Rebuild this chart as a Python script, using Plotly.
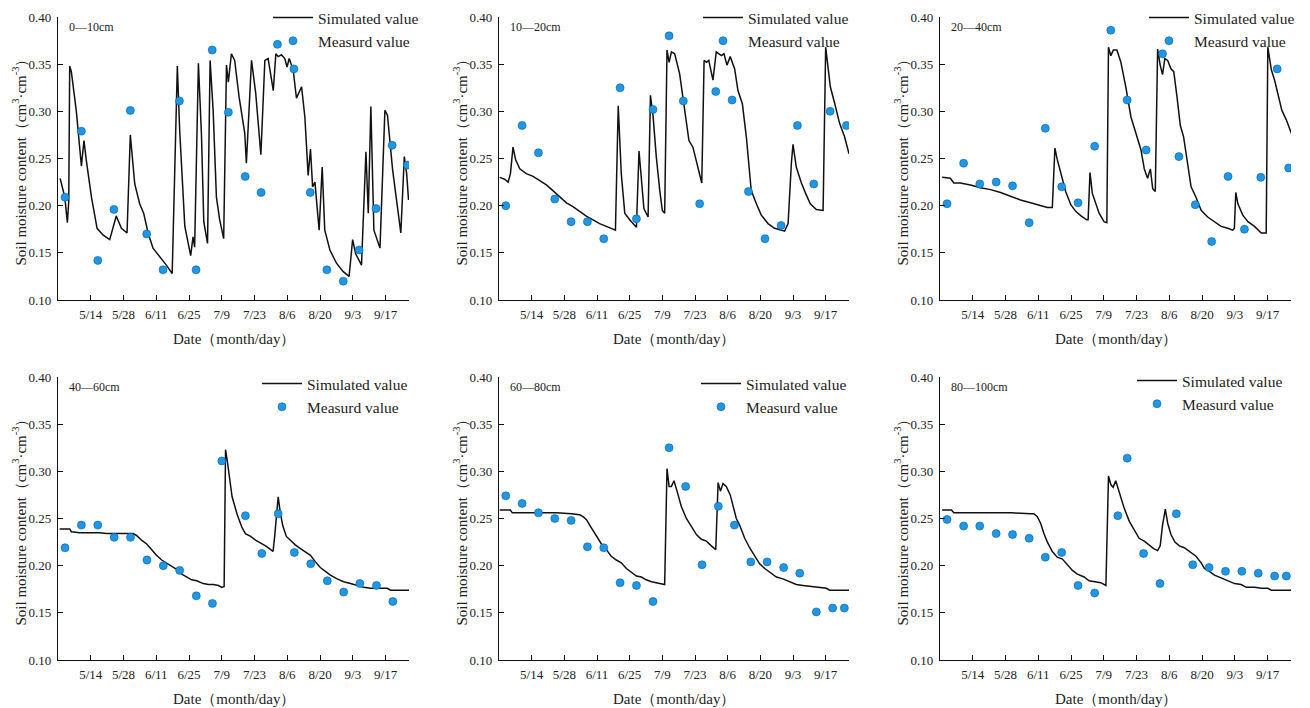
import plotly.graph_objects as go

# ---- Simulated soil moisture (day of year, cm3/cm3) ----
SIM_0_10_DAY = [120.9, 122.9, 124.0, 124.6, 125.0, 125.7, 127.8, 130.0, 131.1, 132.1, 134.3, 136.7, 139.2, 142.1, 144.9,
                147.1, 149.5, 150.9, 152.8, 154.9, 156.6, 158.5, 160.6, 163.5, 166.3, 168.8, 171.0, 172.0, 174.2, 176.7,
                177.7, 178.4, 180.0, 181.3, 182.3, 183.9, 185.0, 186.3, 187.7, 189.1, 190.8, 192.0, 192.8, 194.1, 195.5,
                197.4, 199.1, 199.8, 200.5, 202.7, 204.5, 206.7, 208.4, 209.8, 212.0, 213.1, 214.1, 215.5, 216.9, 217.9,
                218.8, 220.5, 221.9, 224.1, 225.5, 226.9, 227.9, 228.8, 229.8, 231.6, 232.9, 234.0, 236.2, 239.0, 241.9,
                244.4, 245.9, 247.2, 249.7, 251.6, 252.6, 253.7, 255.0, 257.6, 259.7, 260.8, 263.0, 265.0, 266.5, 268.0,
                269.0, 269.8]
SIM_0_10_VAL = [0.229, 0.209, 0.182, 0.205, 0.348, 0.342, 0.301, 0.242, 0.269, 0.248, 0.209, 0.176, 0.169, 0.164, 0.189,
                0.176, 0.171, 0.275, 0.223, 0.202, 0.192, 0.171, 0.155, 0.146, 0.137, 0.128, 0.348, 0.280, 0.178, 0.147,
                0.167, 0.156, 0.351, 0.276, 0.183, 0.160, 0.354, 0.301, 0.209, 0.185, 0.165, 0.349, 0.331, 0.361, 0.354,
                0.315, 0.284, 0.277, 0.245, 0.354, 0.319, 0.254, 0.354, 0.356, 0.322, 0.361, 0.358, 0.360, 0.356, 0.347,
                0.356, 0.344, 0.314, 0.326, 0.294, 0.232, 0.260, 0.220, 0.225, 0.174, 0.241, 0.174, 0.153, 0.139, 0.130,
                0.125, 0.164, 0.149, 0.137, 0.257, 0.192, 0.305, 0.174, 0.155, 0.301, 0.296, 0.238, 0.199, 0.171, 0.252,
                0.234, 0.206]

SIM_10_20_DAY = [120.3, 122.4, 123.9, 124.9, 126.0, 127.1, 128.9, 131.7, 134.6, 137.4, 140.3, 143.1, 146.0, 148.9, 151.7,
                 154.6, 157.4, 160.3, 163.1, 166.0, 169.9, 171.1, 172.4, 173.9, 176.0, 178.9, 180.0, 181.0, 182.1, 183.9,
                 184.9, 186.0, 187.4, 188.9, 190.0, 191.0, 192.0, 192.9, 193.9, 195.3, 197.4, 199.6, 201.4, 203.1, 205.3,
                 206.9, 207.9, 208.9, 209.9, 211.7, 213.1, 215.3, 216.4, 217.7, 219.1, 221.0, 222.4, 224.3, 226.0, 228.1,
                 230.3, 232.4, 235.3, 238.1, 242.4, 243.9, 245.3, 246.0, 247.4, 249.6, 251.4, 253.4, 256.0, 258.9, 260.0,
                 261.0, 262.0, 263.9, 266.0, 268.1, 270.0]
SIM_10_20_VAL = [0.230, 0.228, 0.225, 0.234, 0.262, 0.249, 0.239, 0.234, 0.231, 0.227, 0.222, 0.216, 0.209, 0.203, 0.199,
                 0.194, 0.189, 0.185, 0.181, 0.178, 0.174, 0.306, 0.234, 0.192, 0.185, 0.177, 0.258, 0.229, 0.197, 0.188,
                 0.317, 0.296, 0.252, 0.216, 0.195, 0.192, 0.365, 0.352, 0.363, 0.361, 0.340, 0.301, 0.269, 0.262, 0.241,
                 0.224, 0.354, 0.352, 0.354, 0.333, 0.363, 0.359, 0.361, 0.349, 0.358, 0.345, 0.322, 0.308, 0.273, 0.216,
                 0.202, 0.190, 0.181, 0.176, 0.173, 0.181, 0.245, 0.265, 0.241, 0.224, 0.213, 0.202, 0.196, 0.195, 0.368,
                 0.347, 0.326, 0.308, 0.287, 0.273, 0.255]

SIM_20_40_DAY = [120.9, 124.4, 125.9, 128.7, 133.0, 137.3, 141.6, 145.9, 150.1, 154.4, 158.7, 163.0, 165.9, 168.0, 169.1,
                 170.1, 171.6, 173.7, 175.9, 178.0, 180.4, 182.7, 183.3, 184.1, 185.1, 186.1, 188.0, 190.1, 191.3, 192.0,
                 193.0, 194.1, 195.6, 197.3, 199.4, 201.6, 203.7, 205.9, 207.3, 208.7, 209.9, 210.9, 212.0, 213.0, 214.1,
                 215.1, 216.1, 217.3, 218.7, 219.9, 221.3, 222.7, 224.1, 225.9, 227.3, 229.4, 231.6, 234.4, 237.3, 240.1,
                 243.0, 245.1, 245.8, 246.4, 247.3, 249.4, 251.6, 254.4, 257.3, 259.4, 260.1, 261.6, 263.0, 264.4, 266.1,
                 268.0, 269.4, 270.4]
SIM_20_40_VAL = [0.230, 0.229, 0.224, 0.224, 0.222, 0.219, 0.217, 0.214, 0.210, 0.206, 0.203, 0.200, 0.198, 0.198, 0.261,
                 0.249, 0.234, 0.215, 0.201, 0.194, 0.189, 0.185, 0.185, 0.235, 0.213, 0.206, 0.192, 0.183, 0.182, 0.368,
                 0.359, 0.365, 0.365, 0.352, 0.326, 0.294, 0.276, 0.259, 0.239, 0.229, 0.239, 0.218, 0.215, 0.366, 0.349,
                 0.339, 0.356, 0.354, 0.345, 0.342, 0.315, 0.285, 0.273, 0.245, 0.220, 0.209, 0.195, 0.188, 0.183, 0.178,
                 0.176, 0.174, 0.176, 0.214, 0.202, 0.190, 0.183, 0.178, 0.171, 0.171, 0.368, 0.344, 0.333, 0.319, 0.301,
                 0.291, 0.282, 0.275]

SIM_40_60_DAY = [120.7, 125.0, 125.7, 129.3, 133.6, 137.9, 140.7, 143.6, 146.4, 149.3, 152.1, 153.6, 155.7, 157.9, 160.0,
                 162.1, 164.3, 166.4, 168.6, 170.7, 172.9, 175.0, 177.1, 179.3, 182.1, 184.3, 186.4, 188.6, 190.0, 191.0,
                 191.6, 192.3, 193.4, 194.4, 196.6, 198.7, 200.1, 202.3, 204.4, 206.6, 208.7, 210.9, 211.9, 212.6, 214.1,
                 215.0, 216.1, 217.6, 219.3, 221.4, 223.6, 225.7, 227.9, 230.0, 232.1, 234.3, 236.4, 239.3, 242.1, 245.0,
                 247.9, 250.7, 253.6, 256.4, 260.7, 262.1, 266.4, 270.1]
SIM_40_60_VAL = [0.239, 0.239, 0.236, 0.235, 0.235, 0.235, 0.234, 0.234, 0.234, 0.234, 0.234, 0.232, 0.227, 0.223, 0.217,
                 0.211, 0.206, 0.203, 0.199, 0.196, 0.191, 0.188, 0.185, 0.184, 0.181, 0.180, 0.180, 0.179, 0.177, 0.178,
                 0.323, 0.312, 0.291, 0.273, 0.254, 0.240, 0.234, 0.231, 0.227, 0.224, 0.221, 0.217, 0.215, 0.231, 0.273,
                 0.256, 0.242, 0.231, 0.227, 0.222, 0.218, 0.215, 0.211, 0.204, 0.198, 0.194, 0.190, 0.186, 0.183, 0.181,
                 0.179, 0.177, 0.176, 0.176, 0.176, 0.174, 0.174, 0.174]

SIM_60_80_DAY = [120.3, 124.9, 125.7, 130.3, 137.4, 144.6, 151.0, 154.6, 156.0, 157.4, 159.6, 161.7, 163.9, 166.0, 168.1,
                 170.3, 172.4, 174.6, 176.7, 178.9, 181.0, 183.1, 185.3, 187.4, 189.6, 191.0, 192.0, 192.9, 193.9, 195.0,
                 196.3, 198.1, 200.3, 202.4, 204.6, 206.7, 208.9, 211.0, 212.9, 213.9, 214.9, 216.0, 217.4, 219.1, 220.3,
                 221.7, 223.1, 225.3, 227.4, 229.6, 231.7, 233.9, 236.0, 238.9, 241.7, 244.6, 247.4, 250.3, 253.1, 257.4,
                 260.3, 261.7, 270.0]
SIM_60_80_VAL = [0.259, 0.259, 0.256, 0.256, 0.256, 0.256, 0.255, 0.254, 0.252, 0.249, 0.240, 0.232, 0.223, 0.217, 0.210,
                 0.206, 0.203, 0.197, 0.193, 0.189, 0.188, 0.185, 0.183, 0.182, 0.181, 0.180, 0.303, 0.284, 0.284, 0.290,
                 0.279, 0.263, 0.250, 0.242, 0.233, 0.228, 0.226, 0.221, 0.217, 0.288, 0.279, 0.287, 0.284, 0.275, 0.263,
                 0.250, 0.243, 0.229, 0.219, 0.210, 0.202, 0.197, 0.193, 0.188, 0.186, 0.183, 0.180, 0.179, 0.178, 0.177,
                 0.176, 0.174, 0.174]

SIM_80_100_DAY = [120.9, 124.9, 125.9, 133.0, 140.1, 146.6, 150.9, 158.7, 160.1, 161.6, 163.0, 164.4, 165.9, 168.0, 170.1,
                  172.3, 174.4, 176.6, 178.7, 181.6, 183.7, 186.6, 188.7, 190.9, 192.0, 193.0, 194.0, 195.1, 196.6, 198.7,
                  200.9, 203.0, 205.1, 207.3, 209.4, 211.3, 213.0, 214.1, 215.1, 216.3, 217.3, 218.7, 220.4, 222.3, 224.4,
                  227.3, 229.4, 231.6, 233.0, 235.1, 237.3, 240.1, 243.0, 245.9, 248.7, 250.9, 254.4, 257.3, 260.1, 261.6,
                  270.4]
SIM_80_100_VAL = [0.259, 0.259, 0.256, 0.256, 0.256, 0.256, 0.256, 0.255, 0.255, 0.252, 0.245, 0.234, 0.225, 0.215, 0.209,
                  0.207, 0.201, 0.195, 0.191, 0.188, 0.184, 0.183, 0.182, 0.179, 0.295, 0.286, 0.283, 0.290, 0.277, 0.261,
                  0.247, 0.238, 0.229, 0.226, 0.222, 0.218, 0.216, 0.221, 0.243, 0.260, 0.245, 0.233, 0.225, 0.221, 0.219,
                  0.214, 0.210, 0.203, 0.197, 0.194, 0.190, 0.187, 0.184, 0.181, 0.180, 0.177, 0.177, 0.176, 0.176, 0.174,
                  0.174]

# ---- Measured soil moisture ----
OBS_0_10_DAY = [123.0, 130.0, 137.0, 143.9, 150.9, 157.9, 164.9, 171.9, 179.0, 185.9, 192.8, 200.0, 206.8, 213.8,
                220.8, 227.8, 234.9, 241.9, 248.7, 255.9, 262.8, 269.4]
OBS_0_10_VAL = [0.209, 0.279, 0.142, 0.196, 0.301, 0.170, 0.132, 0.311, 0.132, 0.365, 0.299, 0.231, 0.214, 0.371,
                0.345, 0.214, 0.132, 0.120, 0.153, 0.197, 0.264, 0.243]

OBS_10_20_DAY = [122.9, 129.9, 136.9, 143.9, 150.9, 157.9, 164.9, 171.9, 178.9, 186.0, 192.9, 199.0, 206.0, 212.9,
                 219.9, 226.9, 234.0, 240.9, 247.9, 254.9, 261.9, 268.9]
OBS_10_20_VAL = [0.200, 0.285, 0.256, 0.207, 0.183, 0.183, 0.165, 0.325, 0.186, 0.302, 0.380, 0.311, 0.202, 0.321,
                 0.312, 0.215, 0.165, 0.179, 0.285, 0.223, 0.300, 0.285]

OBS_20_40_DAY = [123.0, 130.1, 137.0, 144.0, 151.0, 158.1, 165.0, 172.0, 179.0, 186.1, 193.0, 200.0, 208.1, 215.1,
                 222.1, 229.1, 236.1, 243.1, 250.1, 257.1, 264.1, 269.0]
OBS_20_40_VAL = [0.202, 0.245, 0.223, 0.225, 0.221, 0.182, 0.282, 0.220, 0.203, 0.263, 0.386, 0.312, 0.259, 0.361,
                 0.252, 0.201, 0.162, 0.231, 0.175, 0.230, 0.345, 0.240]

OBS_40_60_DAY = [123.0, 130.0, 137.0, 144.0, 151.0, 158.0, 165.0, 172.0, 179.1, 186.0, 190.0, 200.1, 207.1, 214.1, 221.0,
                 228.0, 235.1, 242.1, 249.0, 256.1, 263.1]
OBS_40_60_VAL = [0.219, 0.243, 0.243, 0.230, 0.230, 0.206, 0.200, 0.195, 0.168, 0.160, 0.311, 0.253, 0.213, 0.255, 0.214,
                 0.202, 0.184, 0.172, 0.181, 0.179, 0.162]

OBS_60_80_DAY = [122.9, 129.9, 136.9, 143.9, 150.9, 157.9, 164.9, 171.9, 178.9, 186.0, 192.9, 200.0, 207.0, 214.0, 220.9,
                 227.9, 234.9, 242.0, 248.9, 256.0, 263.0, 268.0]
OBS_60_80_VAL = [0.274, 0.266, 0.256, 0.250, 0.248, 0.220, 0.219, 0.182, 0.179, 0.162, 0.325, 0.284, 0.201, 0.263, 0.243,
                 0.204, 0.204, 0.198, 0.192, 0.151, 0.155, 0.155]

OBS_80_100_DAY = [123.0, 130.1, 137.0, 144.0, 151.0, 158.1, 165.0, 172.0, 179.0, 186.1, 196.0, 200.0, 207.0, 214.0, 221.0,
                  228.0, 235.0, 242.0, 249.0, 256.0, 263.0, 268.0]
OBS_80_100_VAL = [0.249, 0.242, 0.242, 0.234, 0.233, 0.229, 0.209, 0.214, 0.179, 0.171, 0.253, 0.314, 0.213, 0.181, 0.255,
                  0.201, 0.198, 0.194, 0.194, 0.192, 0.189, 0.189]

LAYER_LABELS = ["0\u201410cm", "10\u201420cm", "20\u201440cm", "40\u201460cm", "60\u201480cm", "80\u2014100cm"]
TICK_DAYS = [134, 148, 162, 176, 190, 204, 218, 232, 246, 260]
TICK_TEXT = ["5/14", "5/28", "6/11", "6/25", "7/9", "7/23", "8/6", "8/20", "9/3", "9/17"]
Y_TICKS = [0.10, 0.15, 0.20, 0.25, 0.30, 0.35, 0.40]

SIM = [(SIM_0_10_DAY, SIM_0_10_VAL), (SIM_10_20_DAY, SIM_10_20_VAL), (SIM_20_40_DAY, SIM_20_40_VAL),
       (SIM_40_60_DAY, SIM_40_60_VAL), (SIM_60_80_DAY, SIM_60_80_VAL), (SIM_80_100_DAY, SIM_80_100_VAL)]
OBS = [(OBS_0_10_DAY, OBS_0_10_VAL), (OBS_10_20_DAY, OBS_10_20_VAL), (OBS_20_40_DAY, OBS_20_40_VAL),
       (OBS_40_60_DAY, OBS_40_60_VAL), (OBS_60_80_DAY, OBS_60_80_VAL), (OBS_80_100_DAY, OBS_80_100_VAL)]

W, H = 1310, 708
SERIF = "Liberation Serif, Times New Roman, serif"
TXT = "#222222"

# panel boxes in pixels: (left, right, top, bottom)
COLS = [(58, 409), (499, 849), (940, 1291)]
ROWS = [(17, 300), (377, 660)]
# legend anchor (left x, top y) in pixels
LEG = [(268, 1), (698, 1), (1144, 1), (257, 367), (696, 367), (1132, 364)]

fig = go.Figure()
annotations = []

for i in range(6):
    r, c = divmod(i, 3)
    x0, x1 = COLS[c]
    y0, y1 = ROWS[r]
    ax = "" if i == 0 else str(i + 1)
    leg = "legend" if i == 0 else f"legend{i + 1}"

    fig.add_trace(go.Scatter(
        x=SIM[i][0], y=SIM[i][1], mode="lines", name="Simulated value",
        line=dict(color="#111111", width=1.5), xaxis="x" + ax, yaxis="y" + ax,
        legend=leg, showlegend=True))
    fig.add_trace(go.Scatter(
        x=OBS[i][0], y=OBS[i][1], mode="markers", name="Measurd value",
        marker=dict(size=8, color="#1E98E6", line=dict(color="#0F5E9C", width=0.6)),
        xaxis="x" + ax, yaxis="y" + ax, legend=leg, showlegend=True))

    fig.update_layout(**{
        "xaxis" + ax: dict(
            domain=[x0 / W, x1 / W], anchor="y" + ax, range=[120, 270],
            tickmode="array", tickvals=TICK_DAYS, ticktext=TICK_TEXT,
            ticks="inside", ticklen=5, tickwidth=1, tickcolor="#111111",
            showline=True, linecolor="#111111", linewidth=1.3, showgrid=False, zeroline=False,
            tickfont=dict(family=SERIF, size=13, color=TXT), ticklabelstandoff=2, automargin=False),
        "yaxis" + ax: dict(
            domain=[1 - y1 / H, 1 - y0 / H], anchor="x" + ax, range=[0.10, 0.40],
            tickmode="array", tickvals=Y_TICKS, tickformat=".2f",
            ticks="inside", ticklen=5, tickwidth=1, tickcolor="#111111",
            showline=True, linecolor="#111111", linewidth=1.3, showgrid=False, zeroline=False,
            tickfont=dict(family=SERIF, size=13, color=TXT), ticklabelstandoff=3, automargin=False),
        leg: dict(
            x=LEG[i][0] / W, y=1 - LEG[i][1] / H, xanchor="left", yanchor="top",
            bgcolor="rgba(0,0,0,0)", borderwidth=0, tracegroupgap=0,
            font=dict(family=SERIF, size=15.5, color=TXT), itemwidth=40),
    })

    # depth label in the upper-left corner
    annotations.append(dict(
        x=(x0 + 9) / W, y=1 - (y0 + 10) / H, xref="paper", yref="paper",
        xanchor="left", yanchor="middle", showarrow=False, text=LAYER_LABELS[i],
        font=dict(family=SERIF, size=12, color=TXT)))
    # axis titles
    annotations.append(dict(
        x=(x0 + x1) / 2 / W, y=1 - (y1 + 39) / H, xref="paper", yref="paper",
        xanchor="center", yanchor="middle", showarrow=False,
        text="Date\uff08month/day\uff09", font=dict(family=SERIF, size=15, color=TXT)))
    annotations.append(dict(
        x=(x0 - 39) / W, y=1 - (y0 + y1) / 2 / H, xref="paper", yref="paper",
        xanchor="center", yanchor="middle", showarrow=False, textangle=-90,
        text="Soil moisture content\uff08cm<sup>3</sup>\u00b7cm<sup>-3</sup>\uff09",
        font=dict(family=SERIF, size=15, color=TXT)))

fig.update_layout(
    width=W, height=H, margin=dict(l=0, r=0, t=0, b=0, autoexpand=False),
    paper_bgcolor="white", plot_bgcolor="white",
    annotations=annotations,
)

fig.write_html("out.html")
